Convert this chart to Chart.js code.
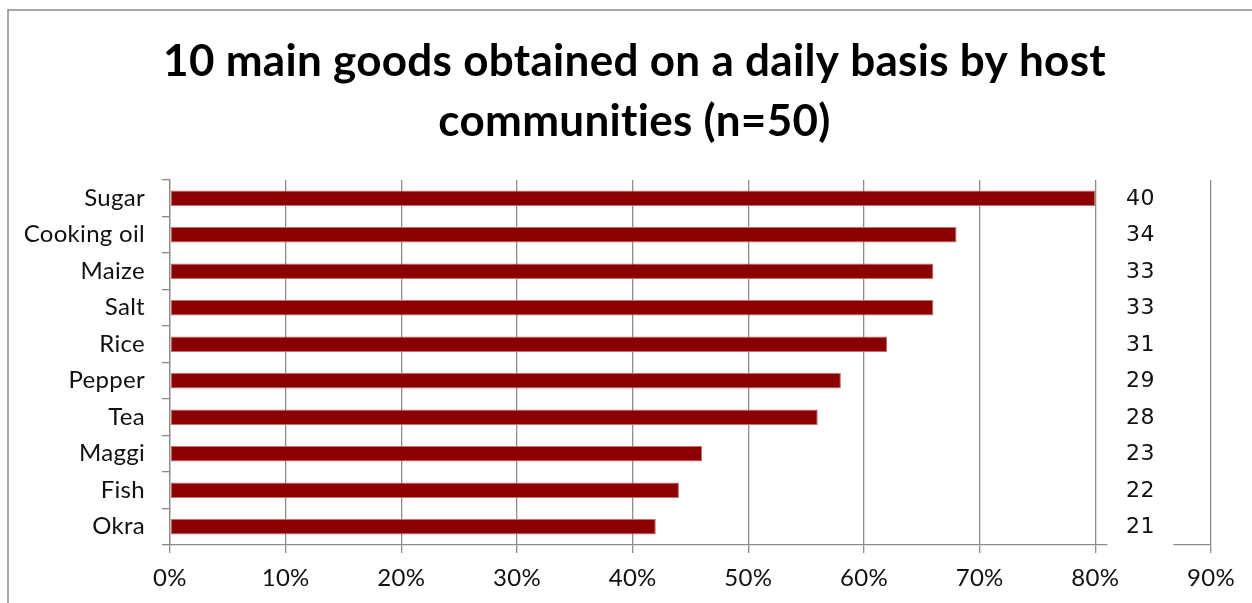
<!DOCTYPE html>
<html>
<head>
<meta charset="utf-8">
<script src="https://cdn.jsdelivr.net/npm/chart.js@4/dist/chart.umd.min.js"></script>
<style>
  html, body { margin: 0; padding: 0; background: #fff; }
  #wrap { width: 1252px; height: 603px; position: relative; }
</style>
</head>
<body>
<div id="wrap"><canvas id="c" width="1252" height="603"></canvas></div>
<script>
// Goods obtained daily by host communities, sample size n = 50
const sampleSize = 50;
const goods = ['Sugar', 'Cooking oil', 'Maize', 'Salt', 'Rice', 'Pepper', 'Tea', 'Maggi', 'Fish', 'Okra'];
const counts = [40, 34, 33, 33, 31, 29, 28, 23, 22, 21];
const percents = counts.map(n => n / sampleSize * 100);
const xTicks = [0, 10, 20, 30, 40, 50, 60, 70, 80, 90];

const titleLines = ['10 main goods obtained on a daily basis by host', 'communities (n=50)'];
const axisGray = '#8c8c8c';
const labelFont = { family: 'Lato', size: 24 };

// Outer frame lines (top and left) around the chart
const framePlugin = {
  id: 'frame',
  beforeDraw(chart) {
    const ctx = chart.ctx;
    ctx.letterSpacing = '0.3px';
    ctx.save();
    ctx.fillStyle = '#fff';
    ctx.fillRect(0, 0, chart.width, chart.height);
    ctx.strokeStyle = '#8a8a8a';
    ctx.lineWidth = 1.5;
    ctx.beginPath();
    ctx.moveTo(8, chart.height);
    ctx.lineTo(8, 10);
    ctx.lineTo(chart.width, 10);
    ctx.stroke();
    ctx.restore();
  }
};

// Count labels in a column to the right of the bars
const countPlugin = {
  id: 'counts',
  afterDraw(chart) {
    const ctx = chart.ctx;
    const xs = chart.scales.x, ys = chart.scales.y;
    const colX = xs.getPixelForValue(83.9);
    ctx.save();
    ctx.fillStyle = '#fff';
    ctx.fillRect(colX - 33, ys.top + 2, 66, ys.bottom - ys.top + 4);
    ctx.fillStyle = '#111';
    ctx.font = '22px "DejaVu Sans"';
    ctx.letterSpacing = '0.5px';
    ctx.textAlign = 'center';
    ctx.textBaseline = 'middle';
    counts.forEach((n, i) => {
      ctx.fillText(String(n), colX, ys.getPixelForValue(i) + 1);
    });
    ctx.restore();
  }
};

new Chart(document.getElementById('c'), {
  type: 'bar',
  data: {
    labels: goods,
    datasets: [{
      data: percents,
      backgroundColor: '#8b0000',
      borderColor: '#c27070',
      borderWidth: 1,
      borderSkipped: false,
      categoryPercentage: 1,
      barPercentage: 0.43
    }]
  },
  options: {
    indexAxis: 'y',
    responsive: false,
    animation: false,
    layout: { padding: { left: 17, right: 0, top: 0, bottom: 0 } },
    plugins: {
      legend: { display: false },
      tooltip: { enabled: false },
      title: {
        display: true,
        text: titleLines,
        color: '#000',
        font: { family: 'Lato', size: 44, weight: 'bold', lineHeight: 60 / 44 },
        padding: { top: 32, bottom: 28 }
      }
    },
    scales: {
      x: {
        min: 0,
        max: 90,
        afterBuildTicks(scale) { scale.ticks = xTicks.map(v => ({ value: v })); },
        afterFit(scale) { scale.height = 58; },
        ticks: {
          color: '#111',
          font: labelFont,
          padding: 11,
          maxRotation: 0,
          callback: v => v + '%'
        },
        grid: { color: axisGray, lineWidth: 1.3, tickLength: 8, drawTicks: true },
        border: { color: axisGray, width: 1.3 }
      },
      y: {
        afterFit(scale) { scale.width = 153; },
        ticks: { color: '#111', font: labelFont, padding: 17 },
        grid: { display: true, drawOnChartArea: false, color: axisGray, lineWidth: 1.3, tickLength: 8, offset: true },
        border: { color: axisGray, width: 1.3 }
      },
      // empty right-hand margin column
      yRight: {
        position: 'right',
        display: true,
        afterFit(scale) { scale.width = 41; },
        ticks: { display: false },
        grid: { display: false },
        border: { display: false }
      }
    }
  },
  plugins: [framePlugin, countPlugin]
});
</script>
</body>
</html>
